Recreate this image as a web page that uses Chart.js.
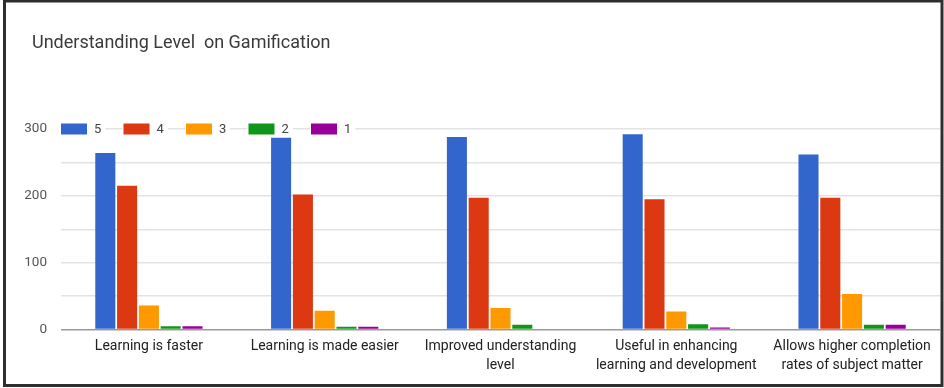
<!DOCTYPE html>
<html>
<head>
<meta charset="utf-8">
<title>Understanding Level on Gamification</title>
<script src="https://cdn.jsdelivr.net/npm/chart.js@4/dist/chart.umd.min.js"></script>
<style>
  html, body { margin: 0; padding: 0; background: #ffffff; }
  #wrap { width: 944px; height: 388px; position: relative; }
  canvas { display: block; }
</style>
</head>
<body>
<div id="wrap"><canvas id="chart" width="944" height="388"></canvas></div>
<script>
// Survey statements (x categories, wrapped onto two lines where long)
const categories = [
  'Learning is faster',
  'Learning is made easier',
  ['Improved understanding', 'level'],
  ['Useful in enhancing', 'learning and development'],
  ['Allows higher completion', 'rates of subject matter']
];

// Rating labels and response counts per rating
const ratingLabels = ['5', '4', '3', '2', '1'];
const rating5 = [264, 287, 288, 292, 262];
const rating4 = [215, 202, 197, 195, 197];
const rating3 = [36, 28, 32, 27, 53];
const rating2 = [5, 4, 7, 8, 7];
const rating1 = [5, 4, 0, 3, 7];

// Y axis range and labelled ticks
const yMax = 300;
const yStep = 50;
const yLabelledTicks = [0, 100, 200, 300];

const chartTitle = 'Understanding Level  on Gamification';
const palette = ['#3366cc', '#dc3912', '#ff9900', '#109618', '#990099'];
const series = [rating5, rating4, rating3, rating2, rating1];

const FONT = 'Roboto, Arial, sans-serif';

// Outer frame around the whole figure
const framePlugin = {
  id: 'frame',
  afterDraw(chart) {
    const ctx = chart.ctx;
    ctx.save();
    ctx.strokeStyle = '#2e2e2e';
    ctx.lineWidth = 3;
    ctx.strokeRect(4.5, 1, 937.5, 384.5);
    ctx.restore();
  }
};

// Title drawn at the top-left
const titlePlugin = {
  id: 'topTitle',
  afterDraw(chart) {
    const ctx = chart.ctx;
    ctx.save();
    ctx.font = '18px ' + FONT;
    ctx.fillStyle = '#3a3a3a';
    ctx.textAlign = 'left';
    ctx.textBaseline = 'middle';
    ctx.fillText(chartTitle, 32, 43);
    ctx.restore();
  }
};

// Legend sitting on the top gridline, each item on a white backing
const inlineLegendPlugin = {
  id: 'inlineLegend',
  afterDatasetsDraw(chart) {
    const ctx = chart.ctx;
    const yScale = chart.scales.y;
    const cy = yScale.getPixelForValue(yMax);
    const boxW = 26, boxH = 11, gap = 7, pitch = 62.5;
    ctx.save();
    ctx.font = '13px ' + FONT;
    ctx.textBaseline = 'middle';
    ctx.textAlign = 'left';
    chart.data.datasets.forEach((ds, i) => {
      const x = chart.chartArea.left + i * pitch;
      const tw = ctx.measureText(ds.label).width;
      ctx.fillStyle = '#ffffff';
      ctx.fillRect(x - 1, cy - 8, boxW + gap + tw + 5, 16);
      ctx.fillStyle = ds.backgroundColor;
      ctx.fillRect(x, cy - boxH / 2, boxW, boxH);
      ctx.fillStyle = '#444444';
      ctx.fillText(ds.label, x + boxW + gap, cy + 0.5);
    });
    ctx.restore();
  }
};

new Chart(document.getElementById('chart'), {
  type: 'bar',
  data: {
    labels: categories,
    datasets: series.map((values, i) => ({
      label: ratingLabels[i],
      data: values,
      backgroundColor: palette[i],
      borderWidth: 0,
      categoryPercentage: 0.62,
      barPercentage: 0.92
    }))
  },
  options: {
    responsive: false,
    devicePixelRatio: 1,
    animation: false,
    layout: { padding: { left: 0, right: 4, top: 129, bottom: 4 } },
    plugins: {
      legend: { display: false },
      title: { display: false },
      tooltip: { enabled: false }
    },
    scales: {
      x: {
        grid: { display: false, drawTicks: false },
        border: { display: false },
        ticks: {
          color: '#222222',
          font: { family: FONT, size: 14, lineHeight: 1.36 },
          padding: 7,
          maxRotation: 0,
          autoSkip: false
        },
        afterFit(scale) { scale.height = 54.5; }
      },
      y: {
        min: 0,
        max: yMax,
        grid: {
          drawTicks: false,
          color: (ctx) => ctx.tick && ctx.tick.value === 0 ? '#9a9a9a' : '#e3e3e3',
          lineWidth: (ctx) => ctx.tick && ctx.tick.value === 0 ? 1.5 : 1.4
        },
        border: { display: false },
        ticks: {
          stepSize: yStep,
          color: '#555555',
          font: { family: FONT, size: 13.5 },
          padding: 14,
          callback: (v) => yLabelledTicks.includes(v) ? String(v) : ''
        },
        afterFit(scale) { scale.width = 61; }
      }
    }
  },
  plugins: [inlineLegendPlugin, titlePlugin, framePlugin]
});
</script>
</body>
</html>
